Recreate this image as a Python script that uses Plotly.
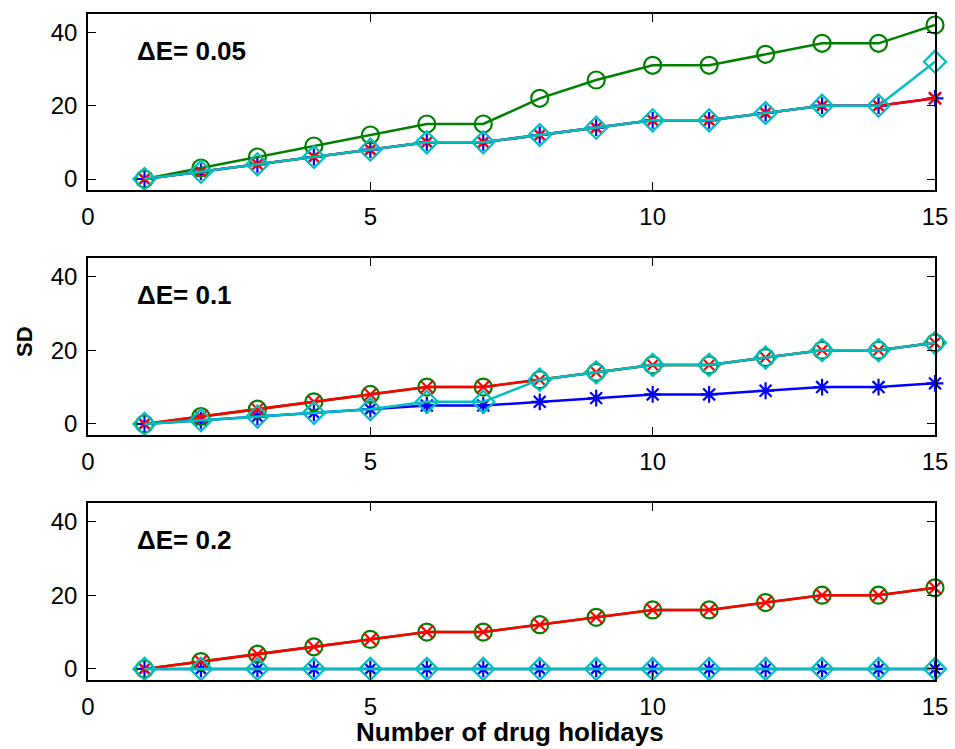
import plotly.graph_objects as go

holidays = list(range(1, 16))

# Panel 1: dE = 0.05
p1_blue = [0, 2, 4, 6, 8, 10, 10, 12, 14, 16, 16, 18, 20, 20, 22]
p1_green = [0, 3, 6, 9, 12, 15, 15, 22, 27, 31, 31, 34, 37, 37, 42]
p1_red = [0, 2, 4, 6, 8, 10, 10, 12, 14, 16, 16, 18, 20, 20, 22]
p1_cyan = [0, 2, 4, 6, 8, 10, 10, 12, 14, 16, 16, 18, 20, 20, 32]

# Panel 2: dE = 0.1
p2_blue = [0, 1, 2, 3, 4, 5, 5, 6, 7, 8, 8, 9, 10, 10, 11]
p2_green = [0, 2, 4, 6, 8, 10, 10, 12, 14, 16, 16, 18, 20, 20, 22]
p2_red = [0, 2, 4, 6, 8, 10, 10, 12, 14, 16, 16, 18, 20, 20, 22]
p2_cyan = [0, 1, 2, 3, 4, 6, 6, 12, 14, 16, 16, 18, 20, 20, 22]

# Panel 3: dE = 0.2
p3_blue = [0] * 15
p3_green = [0, 2, 4, 6, 8, 10, 10, 12, 14, 16, 16, 18, 20, 20, 22]
p3_red = [0, 2, 4, 6, 8, 10, 10, 12, 14, 16, 16, 18, 20, 20, 22]
p3_cyan = [0] * 15

panel_labels = ["\u0394E= 0.05", "\u0394E= 0.1", "\u0394E= 0.2"]
x_ticks = [0, 5, 10, 15]
y_ticks = [0, 20, 40]

panels = [
    (p1_blue, p1_green, p1_red, p1_cyan),
    (p2_blue, p2_green, p2_red, p2_cyan),
    (p3_blue, p3_green, p3_red, p3_cyan),
]

W, H = 955, 749
x0_px, x1_px = 88, 935
boxes_px = [(14, 190), (258, 435), (503, 680)]

styles = [
    ("#0000ff", "asterisk-open", 14),
    ("#008000", "circle-open", 17),
    ("#ff0000", "x-thin-open", 12),
    ("#00bfbf", "diamond-open", 17),
]

FONT = "Liberation Sans, Arial, Helvetica, sans-serif"

fig = go.Figure()
layout = {}
for i, series in enumerate(panels):
    n = "" if i == 0 else str(i + 1)
    for vals, (color, sym, size) in zip(series, styles):
        fig.add_trace(go.Scatter(
            x=holidays, y=vals, mode="lines+markers",
            line=dict(color=color, width=2.5),
            marker=dict(symbol=sym, size=size, color=color,
                        line=dict(color=color, width=2.2)),
            xaxis="x" + n, yaxis="y" + n, showlegend=False, cliponaxis=False,
        ))
    top, bot = boxes_px[i]
    common = dict(showline=True, linecolor="black", linewidth=1.5, mirror="ticks",
                  ticks="inside", ticklen=8, tickcolor="black", tickwidth=1.2,
                  showgrid=False, zeroline=False, automargin=False,
                  tickfont=dict(family=FONT, size=24, color="black"))
    layout["xaxis" + n] = dict(domain=[x0_px / W, x1_px / W], range=[0, 15],
                               tickvals=x_ticks, anchor="y" + n, ticklabelstandoff=4, **common)
    layout["yaxis" + n] = dict(domain=[1 - bot / H, 1 - top / H], range=[-3, 45],
                               tickvals=y_ticks, anchor="x" + n, ticklabelstandoff=4, **common)
    fig.add_annotation(text="<b>" + panel_labels[i] + "</b>", xref="paper", yref="paper",
                       x=135 / W, y=1 - (top + 37) / H, xanchor="left", yanchor="middle",
                       showarrow=False, font=dict(family=FONT, size=26, color="black"))

fig.add_annotation(text="<b>SD</b>", xref="paper", yref="paper", x=25 / W, y=1 - 342 / H,
                   textangle=-90, showarrow=False, xanchor="center", yanchor="middle",
                   font=dict(family=FONT, size=22, color="black"))
fig.add_annotation(text="<b>Number of drug holidays</b>", xref="paper", yref="paper",
                   x=510 / W, y=1 - 732 / H, showarrow=False, xanchor="center",
                   yanchor="middle", font=dict(family=FONT, size=26, color="black"))

fig.update_layout(width=W, height=H, margin=dict(l=0, r=0, t=0, b=0),
                  paper_bgcolor="white", plot_bgcolor="white", **layout)
fig.write_html("out.html")
